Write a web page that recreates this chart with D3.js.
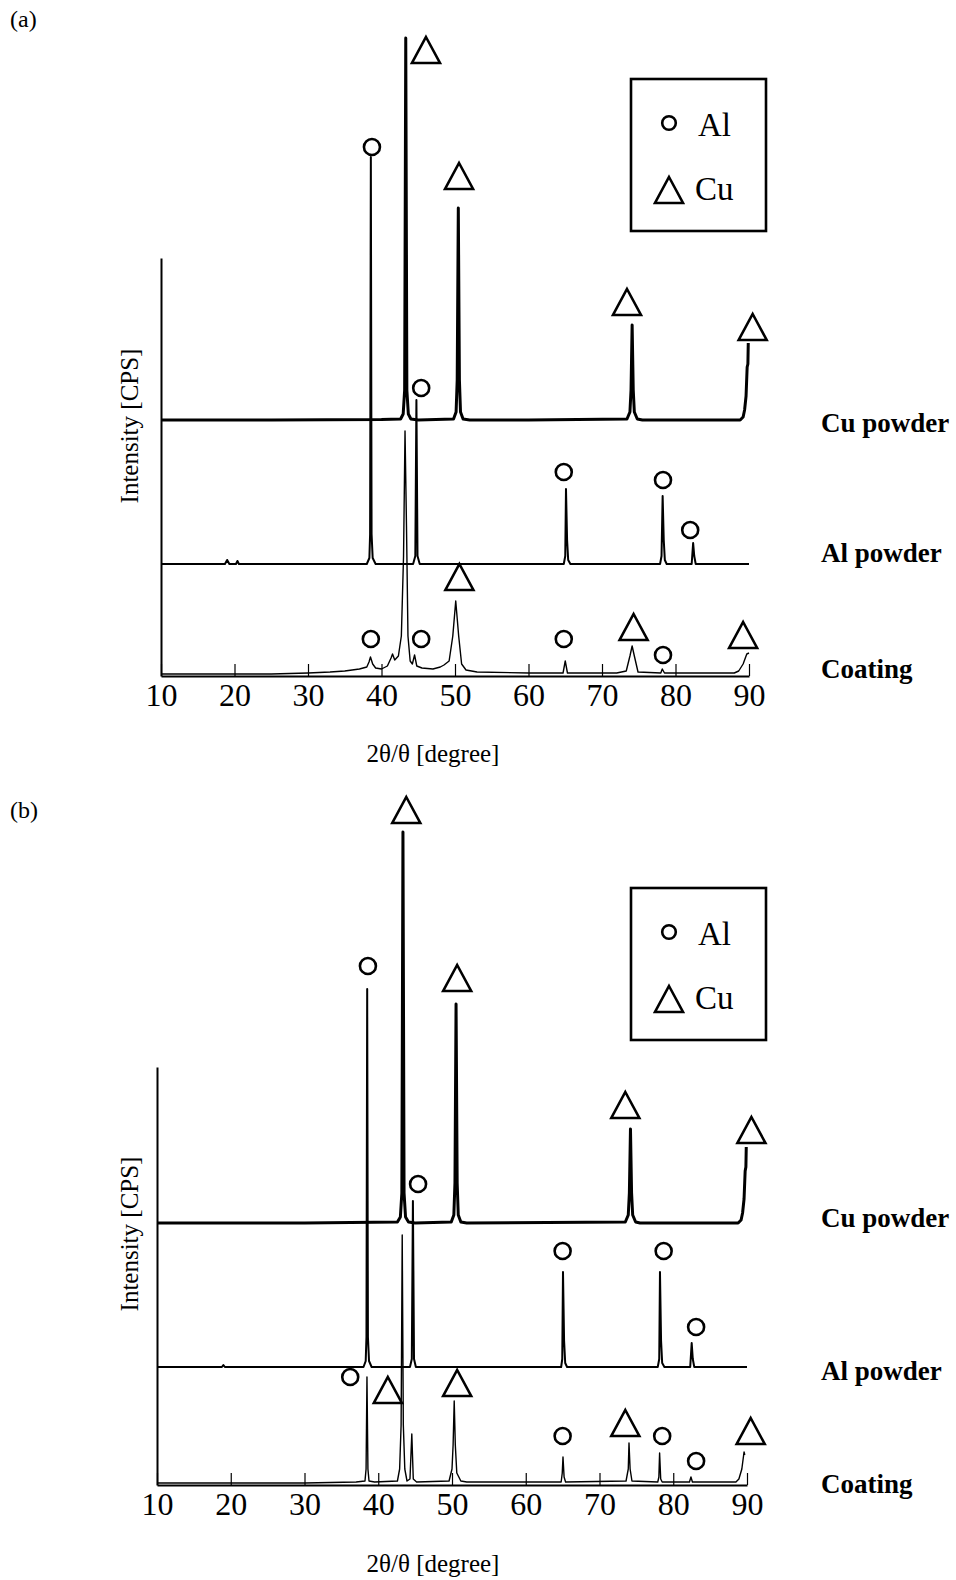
<!DOCTYPE html>
<html lang="en">
<head>
<meta charset="UTF-8">
<title>XRD patterns: Cu powder, Al powder, coating</title>
<script src="https://d3js.org/d3.v7.min.js"></script>
<style>
  body { margin: 0; background: #fff; }
  svg { display: block; font-family: "Liberation Serif", "Times New Roman", serif; }
  .trace { fill: none; stroke: #000; stroke-linejoin: round; }
  .mark { fill: none; stroke: #000; stroke-width: 2.6px; stroke-linejoin: miter; }
  .series-label { font-weight: bold; font-size: 27px; }
  .axis text { font-size: 32px; font-family: "Liberation Serif", "Times New Roman", serif; fill: #000; }
  .axis .domain { stroke: #000; stroke-width: 2px; }
  .axis .tick line { stroke: #000; stroke-width: 1.2px; }
</style>
</head>
<body>
<script>
// ---- data (2theta in degrees, intensity in arbitrary CPS) ----
const xTicks = [10, 20, 30, 40, 50, 60, 70, 80, 90];
const seriesNames = ["Cu powder", "Al powder", "Coating"];
const phases = ["Al", "Cu"];
const yAxisTop = 20900;

// panel (a)
const offsetsA = [12800, 5600, 0];
const cuPowderA = [[10, 0], [25, 0], [40, 20], [42.6, 50], [42.95, 300], [43.15, 1500], [43.3, 19100], [43.45, 1500],
  [43.65, 300], [44.0, 50], [45, 0], [49.8, 50], [50.15, 400], [50.3, 2000], [50.45, 10600], [50.6, 2000], [50.75, 400],
  [51.1, 50], [52, 0], [60, 0], [73.4, 50], [73.8, 400], [73.95, 1500], [74.1, 4750], [74.25, 1500], [74.4, 400],
  [74.8, 50], [75.5, 0], [88.8, 0], [89.2, 150], [89.4, 500], [89.6, 1200], [89.75, 2650], [89.85, 2800], [89.9, 3850]];
const alPowderA = [[10, 0], [18.7, 0], [19.0, 200], [19.3, 0], [20.2, 0], [20.4, 150], [20.6, 0], [38.0, 0], [38.35, 300],
  [38.45, 1500], [38.55, 20350], [38.65, 1500], [38.8, 300], [39.2, 0], [44.3, 0], [44.6, 400], [44.75, 8200], [44.9, 400],
  [45.2, 0], [64.8, 0], [65.0, 400], [65.1, 3750], [65.25, 1200], [65.4, 200], [65.7, 0], [77.9, 0], [78.1, 400],
  [78.25, 3400], [78.4, 1200], [78.55, 200], [78.8, 0], [82.2, 0], [82.4, 1050], [82.55, 400], [82.75, 0], [90, 0]];
const coatingA = [[10, 100], [20, 100], [25, 100], [30, 150], [33, 200], [35, 250], [37, 350], [38.0, 450], [38.3, 700],
  [38.5, 950], [38.8, 600], [39.2, 400], [40, 350], [40.8, 500], [41.3, 900], [41.5, 1100], [41.8, 800], [42.3, 1000],
  [42.7, 2000], [43.0, 6000], [43.2, 12250], [43.4, 7500], [43.6, 2000], [43.9, 750], [44.2, 600], [44.5, 1050],
  [44.8, 500], [45.5, 400], [47, 350], [48, 450], [48.5, 550], [49.2, 750], [49.7, 2000], [50.1, 3750], [50.5, 2000],
  [50.9, 600], [51.5, 300], [53, 200], [60, 150], [64.7, 150], [65.0, 750], [65.3, 150], [72, 150], [73.3, 250],
  [73.8, 1000], [74.1, 1500], [74.4, 1000], [74.9, 200], [78.0, 150], [78.2, 350], [78.5, 150], [88, 150], [88.6, 250],
  [89.2, 600], [89.7, 1100], [90, 1150]];
const markersA = [
  ["Al", 38.7, 26450], ["Cu", 46.05, 31300], ["Cu", 50.55, 25000], ["Al", 45.4, 14400], ["Cu", 73.4, 18700],
  ["Cu", 90.5, 17450], ["Al", 64.8, 10200], ["Al", 78.3, 9800], ["Al", 82.0, 7300], ["Cu", 50.6, 4950],
  ["Al", 38.55, 1850], ["Al", 45.4, 1850], ["Al", 64.8, 1850], ["Cu", 74.3, 2450], ["Al", 78.3, 1050], ["Cu", 89.2, 2050]];

// panel (b)
const offsetsB = [13100, 5900, 0];
const cuPowderB = [[10, 0], [30, 0], [42.6, 50], [43.0, 300], [43.2, 1500], [43.35, 19550], [43.5, 1500], [43.7, 300],
  [44.1, 50], [45, 0], [49.9, 50], [50.25, 400], [50.4, 2000], [50.55, 10950], [50.7, 2000], [50.85, 400], [51.2, 50],
  [52, 0], [73.5, 50], [73.9, 400], [74.05, 1500], [74.2, 4700], [74.35, 1500], [74.5, 400], [74.9, 50], [75.5, 0],
  [88.8, 0], [89.2, 150], [89.4, 500], [89.6, 1200], [89.75, 2600], [89.85, 2800], [89.9, 3800]];
const alPowderB = [[10, 0], [18.8, 0], [19.0, 100], [19.2, 0], [38.0, 0], [38.3, 300], [38.4, 1500], [38.5, 18900],
  [38.6, 1500], [38.75, 300], [39.1, 0], [44.3, 0], [44.55, 400], [44.7, 8300], [44.85, 400], [45.1, 0], [64.8, 0],
  [64.95, 400], [65.05, 4750], [65.2, 1300], [65.35, 200], [65.6, 0], [77.9, 0], [78.1, 400], [78.2, 4750], [78.35, 1300],
  [78.5, 200], [78.8, 0], [82.3, 0], [82.5, 1200], [82.65, 400], [82.85, 0], [90, 0]];
const coatingB = [[10, 100], [20, 100], [30, 100], [37, 150], [38.2, 200], [38.35, 800], [38.47, 5400], [38.6, 800],
  [38.75, 200], [39.5, 150], [42.6, 200], [42.9, 800], [43.1, 3000], [43.25, 12500], [43.4, 3000], [43.6, 800],
  [43.9, 200], [44.3, 300], [44.55, 2550], [44.75, 300], [45.2, 150], [49.6, 200], [50.0, 800], [50.15, 2000],
  [50.3, 4200], [50.45, 2000], [50.65, 600], [51.2, 200], [52, 150], [64.8, 150], [64.95, 600], [65.05, 1400],
  [65.2, 400], [65.4, 150], [73.6, 200], [73.9, 800], [74.0, 2100], [74.15, 800], [74.4, 200], [77.9, 150], [78.05, 400],
  [78.15, 1600], [78.3, 300], [78.5, 150], [82.2, 150], [82.4, 400], [82.6, 150], [88.5, 150], [88.9, 300], [89.3, 800],
  [89.6, 1650], [89.7, 1500]];
const markersB = [
  ["Cu", 43.8, 33750], ["Al", 38.6, 25950], ["Cu", 50.7, 25350], ["Cu", 73.5, 19000], ["Cu", 90.6, 17750],
  ["Al", 45.4, 15050], ["Al", 65.0, 11700], ["Al", 78.7, 11700], ["Al", 83.1, 7900], ["Al", 36.2, 5400],
  ["Cu", 41.3, 4750], ["Cu", 50.7, 5100], ["Al", 65.0, 2450], ["Cu", 73.5, 3100], ["Al", 78.5, 2450],
  ["Al", 83.1, 1200], ["Cu", 90.5, 2700]];

// ---- layout ----
const W = 956, H = 1580;
const svg = d3.select("body").append("svg").attr("width", W).attr("height", H);

const panels = [
  { tag: "(a)", tagY: 27, axisY: 676, xLeft: 161, xRight: 749, legendTop: 79, xLabelY: 762, yLabelY: 426,
    nameY: [432, 562, 678], series: [cuPowderA, alPowderA, coatingA], offsets: offsetsA, markers: markersA },
  { tag: "(b)", tagY: 818, axisY: 1485, xLeft: 157, xRight: 747, legendTop: 888, xLabelY: 1572, yLabelY: 1234,
    nameY: [1227, 1380, 1493], series: [cuPowderB, alPowderB, coatingB], offsets: offsetsB, markers: markersB }
];
const strokeWidths = [3, 2, 1.4];

function triPath(cx, cy) {
  return `M${cx},${cy - 13}L${cx + 14},${cy + 13}L${cx - 14},${cy + 13}Z`;
}

function drawMarker(g, phase, cx, cy, r) {
  if (phase === "Al") {
    g.append("circle").attr("class", "mark").attr("cx", cx).attr("cy", cy).attr("r", r);
  } else {
    g.append("path").attr("class", "mark").attr("d", triPath(cx, cy));
  }
}

panels.forEach(p => {
  const g = svg.append("g");
  const x = d3.scaleLinear().domain([10, 90]).range([p.xLeft, p.xRight]);
  const y = d3.scaleLinear().domain([0, 32000]).range([p.axisY, p.axisY - 640]);

  // panel tag
  g.append("text").attr("x", 10).attr("y", p.tagY).attr("font-size", 24).text(p.tag);

  // traces
  p.series.forEach((s, i) => {
    const line = d3.line().x(d => x(d[0])).y(d => y(d[1] + p.offsets[i]));
    g.append("path").attr("class", "trace").attr("stroke-width", strokeWidths[i]).attr("d", line(s));
  });

  // x axis (ticks point up into the plot)
  g.append("g")
    .attr("class", "axis")
    .attr("transform", `translate(0,${p.axisY})`)
    .call(d3.axisBottom(x).tickValues(xTicks).tickFormat(d3.format("d"))
      .tickSizeInner(-12).tickSizeOuter(0).tickPadding(7));

  // y axis: a bare line, no ticks
  const yLine = d3.scaleLinear().domain([0, yAxisTop]).range([y(0), y(yAxisTop)]);
  g.append("g")
    .attr("class", "axis")
    .attr("transform", `translate(${p.xLeft},0)`)
    .call(d3.axisLeft(yLine).tickValues([]).tickSizeOuter(0))
    .select(".domain").attr("stroke-width", 1.6);

  // peak markers
  p.markers.forEach(m => drawMarker(g, m[0], x(m[1]), y(m[2]), 8));

  // axis titles
  g.append("text").attr("x", 433).attr("y", p.xLabelY).attr("text-anchor", "middle")
    .attr("font-size", 25).text("2θ/θ [degree]");
  g.append("text").attr("transform", `translate(138,${p.yLabelY}) rotate(-90)`)
    .attr("text-anchor", "middle").attr("font-size", 25).text("Intensity [CPS]");

  // series names
  seriesNames.forEach((n, i) => {
    g.append("text").attr("class", "series-label").attr("x", 821).attr("y", p.nameY[i]).text(n);
  });

  // legend
  const lg = g.append("g").attr("transform", `translate(631,${p.legendTop})`);
  lg.append("rect").attr("width", 135).attr("height", 152)
    .attr("fill", "none").attr("stroke", "#000").attr("stroke-width", 2.6);
  phases.forEach((ph, i) => {
    drawMarker(lg, ph, 38, i === 0 ? 44 : 111, 6.8);
    lg.append("text").attr("x", i === 0 ? 67 : 64).attr("y", i === 0 ? 57 : 121)
      .attr("font-size", 33).text(ph);
  });
});
</script>
</body>
</html>
